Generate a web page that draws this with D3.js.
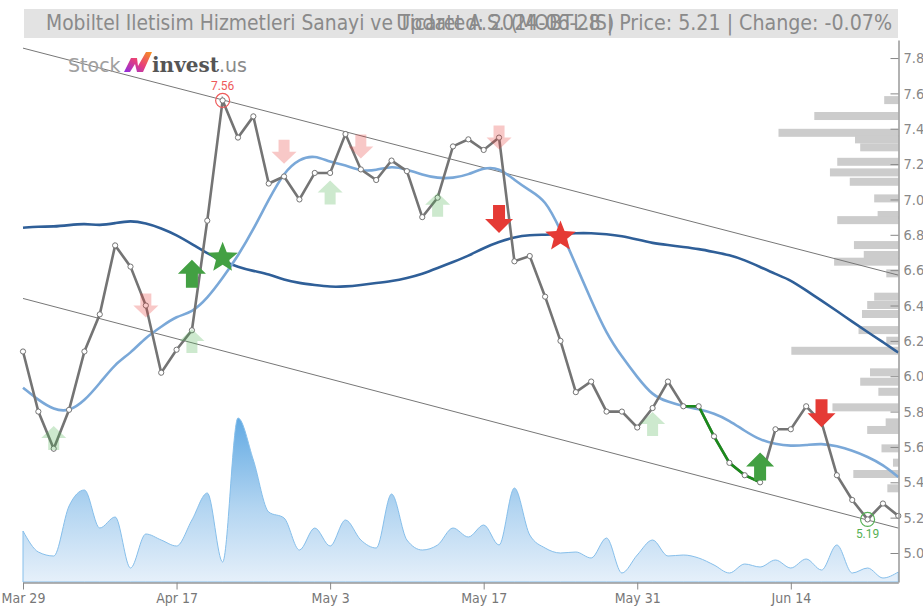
<!DOCTYPE html>
<html><head><meta charset="utf-8">
<script src="https://cdn.jsdelivr.net/npm/d3@7"></script>
<style>
html,body{margin:0;padding:0;background:#fff;}
svg{display:block;}
.nar{font-family:'Liberation Sans Narrow','Arial Narrow','DejaVu Sans Condensed',sans-serif;}
</style></head>
<body><svg id="c" width="923" height="608"></svg>
<script>
// ---------------- data ----------------
const dates = ["2024-03-29","2024-04-01","2024-04-02","2024-04-03","2024-04-04","2024-04-05","2024-04-08","2024-04-09","2024-04-15","2024-04-16",
"2024-04-17","2024-04-18","2024-04-19","2024-04-22","2024-04-24","2024-04-25","2024-04-26","2024-04-29","2024-04-30","2024-05-02",
"2024-05-03","2024-05-06","2024-05-07","2024-05-08","2024-05-09","2024-05-10","2024-05-13","2024-05-14","2024-05-15","2024-05-16",
"2024-05-17","2024-05-20","2024-05-21","2024-05-22","2024-05-23","2024-05-24","2024-05-27","2024-05-28","2024-05-29","2024-05-30",
"2024-05-31","2024-06-03","2024-06-04","2024-06-05","2024-06-06","2024-06-07","2024-06-10","2024-06-11","2024-06-12","2024-06-13",
"2024-06-14","2024-06-20","2024-06-21","2024-06-24","2024-06-25","2024-06-26","2024-06-27","2024-06-28"];

const closePrices = [6.14,5.80,5.59,5.81,6.14,6.35,6.74,6.62,6.40,6.02,
6.15,6.26,6.88,7.56,7.35,7.47,7.09,7.13,7.00,7.15,
7.15,7.37,7.17,7.11,7.22,7.16,6.90,7.01,7.30,7.34,
7.28,7.35,6.65,6.68,6.45,6.20,5.91,5.97,5.80,5.80,
5.71,5.82,5.97,5.83,5.83,5.66,5.51,5.44,5.40,5.70,
5.70,5.83,5.74,5.44,5.30,5.19,5.28,5.21];

const maShort = [5.935,5.865,5.81,5.80,5.86,5.96,6.07,6.13,6.22,6.28,
6.34,6.36,6.44,6.555,6.68,6.83,7.00,7.155,7.23,7.25,
7.21,7.195,7.16,7.165,7.19,7.17,7.14,7.12,7.12,7.14,
7.18,7.18,7.11,7.05,7.00,6.83,6.63,6.43,6.24,6.11,
5.995,5.89,5.855,5.83,5.815,5.79,5.75,5.69,5.64,5.615,
5.605,5.61,5.62,5.605,5.58,5.545,5.50,5.43];

const maLong = [6.84,6.847,6.846,6.855,6.864,6.852,6.866,6.881,6.866,6.838,
6.799,6.748,6.694,6.652,6.618,6.595,6.578,6.544,6.527,6.516,
6.505,6.507,6.516,6.527,6.538,6.555,6.578,6.612,6.646,6.68,
6.726,6.76,6.787,6.799,6.80,6.804,6.81,6.81,6.804,6.793,
6.773,6.753,6.742,6.731,6.72,6.703,6.686,6.657,6.618,6.578,
6.544,6.485,6.428,6.369,6.309,6.25,6.193,6.134];

const volumes = [1275,750,650,1900,2300,1350,1625,350,1200,1050,
900,1550,2225,500,4100,3050,1750,1600,800,1350,
900,1550,1050,850,2200,1050,800,925,1350,1125,
1425,925,2350,1175,850,725,750,600,1100,225,
675,1050,650,675,600,425,225,450,375,550,
350,575,300,925,225,350,100,250];

const profileLevels = [7.562,7.472,7.377,7.34,7.295,7.213,7.153,7.10,7.006,6.912,
6.883,6.742,6.686,6.648,6.582,6.45,6.403,6.352,6.261,6.201,
6.144,6.022,5.969,5.912,5.824,5.739,5.696,5.592,5.511,5.447,5.366];
const profileVolumes = [137,807,1150,417,367,587,657,467,233,200,
587,427,333,617,117,233,300,350,383,117,
1027,273,367,193,633,123,300,163,53,433,107];

const channelUpper = [7.856, 6.572];   // value at first / last date
const channelLower = [6.44, 5.141];

const greenRun = [43, 48];             // highlighted segment (index range)

// signals: index, price level, kind
const signalIdx   = [2, 8, 11, 11, 13, 17, 20, 22, 27, 31, 31, 35, 41, 48, 52];
const signalLevel = [5.65, 6.40, 6.20, 6.58, 6.67, 7.27, 7.04, 7.30, 6.97, 7.35, 6.89, 6.79, 5.73, 5.49, 5.79];
const signalKind  = ["weakBuy","weakSell","weakBuy","buy","buyStar","weakSell","weakBuy","weakSell","weakBuy","weakSell","sell","sellStar","weakBuy","buy","sell"];

const yTicks = [5.0,5.2,5.4,5.6,5.8,6.0,6.2,6.4,6.6,6.8,7.0,7.2,7.4,7.6,7.8];
const xTickDates = ["2024-03-29","2024-04-17","2024-05-03","2024-05-17","2024-05-31","2024-06-14"];

const titleLeft = "Mobiltel Iletisim Hizmetleri Sanayi ve Ticaret A.S. (MOBTL.IS)";
const titleRight = "Updated: 2024-06-28 | Price: 5.21 | Change: -0.07%";

// ---------------- drawing ----------------
const svg = d3.select("#c");
const parse = d3.timeParse("%Y-%m-%d");
const fmt = d3.timeFormat("%b %-d");

const x = d3.scalePoint().domain(dates).range([23, 898.3]);
const y = d3.scaleLinear().domain([4.836, 7.902]).range([582, 40]);
const yv = d3.scaleLinear().domain([0, 4100]).range([582, 418]);
const xp = d3.scaleLinear().domain([0, 1150]).range([0, 120]);

const defs = svg.append("defs");
const vg = defs.append("linearGradient").attr("id","vg").attr("gradientUnits","userSpaceOnUse")
  .attr("x1",0).attr("x2",0).attr("y1",418).attr("y2",582);
vg.append("stop").attr("offset","0").attr("stop-color","#62aae3");
vg.append("stop").attr("offset","0.55").attr("stop-color","#b3d5f1");
vg.append("stop").attr("offset","1").attr("stop-color","#e6f0fa");

const lg = defs.append("linearGradient").attr("id","lg").attr("x1","0").attr("x2","1").attr("y1","1").attr("y2","0");
lg.append("stop").attr("offset","0").attr("stop-color","#8e2de2");
lg.append("stop").attr("offset","0.5").attr("stop-color","#e8407a");
lg.append("stop").attr("offset","1").attr("stop-color","#f7931e");

// header
svg.append("rect").attr("x",24).attr("y",9).attr("width",874).attr("height",29).attr("fill","#e3e3e3");
svg.append("text").attr("class","nar").attr("x",46).attr("y",30).attr("font-size",20.8).attr("fill","#8a8a8a").text(titleLeft);
svg.append("text").attr("class","nar").attr("x",892).attr("y",30).attr("text-anchor","end").attr("font-size",21.2).attr("fill","#8a8a8a").text(titleRight);

// volume area
const idx = d3.range(dates.length);
svg.append("path").datum(idx)
  .attr("d", d3.area().x(i=>x(dates[i])).y0(582).y1(i=>yv(volumes[i])).curve(d3.curveMonotoneX))
  .attr("fill","url(#vg)").attr("stroke","#86bfeb").attr("stroke-width",1);

// volume profile
svg.append("g").selectAll("rect").data(profileLevels).join("rect")
  .attr("x",(d,i)=>898.5 - xp(profileVolumes[i])).attr("width",(d,i)=>xp(profileVolumes[i]))
  .attr("y",d=>y(d)-4).attr("height",8).attr("fill","#cccccc");

// channel
svg.append("line").attr("x1",x(dates[0])).attr("x2",x(dates[dates.length-1]))
  .attr("y1",y(channelUpper[0])).attr("y2",y(channelUpper[1])).attr("stroke","#777").attr("stroke-width",1);
svg.append("line").attr("x1",x(dates[0])).attr("x2",x(dates[dates.length-1]))
  .attr("y1",y(channelLower[0])).attr("y2",y(channelLower[1])).attr("stroke","#777").attr("stroke-width",1);

// moving averages
svg.append("path").datum(idx).attr("d", d3.line().x(i=>x(dates[i])).y(i=>y(maLong[i])).curve(d3.curveBasis))
  .attr("fill","none").attr("stroke","#2f5f98").attr("stroke-width",2.6);
svg.append("path").datum(idx).attr("d", d3.line().x(i=>x(dates[i])).y(i=>y(maShort[i])).curve(d3.curveBasis))
  .attr("fill","none").attr("stroke","#7aa8d8").attr("stroke-width",2.6);

// price line
const pline = d3.line().x(i=>x(dates[i])).y(i=>y(closePrices[i]));
svg.append("path").datum(idx).attr("d", pline).attr("fill","none").attr("stroke","#747474").attr("stroke-width",2.6);
svg.append("path").datum(d3.range(greenRun[0], greenRun[1]+1)).attr("d", pline).attr("fill","none").attr("stroke","#1b8a1b").attr("stroke-width",2.6);
svg.append("g").selectAll("circle").data(idx).join("circle")
  .attr("cx",i=>x(dates[i])).attr("cy",i=>y(closePrices[i])).attr("r",2.6)
  .attr("fill","#fff").attr("stroke","#747474").attr("stroke-width",1);

// signals
function arrowPath(W,Hh,headH,s){
  const t=-Hh/2, b=Hh/2, hb=t+headH;
  return `M0,${t}L${W/2},${hb}L${s/2},${hb}L${s/2},${b}L${-s/2},${b}L${-s/2},${hb}L${-W/2},${hb}Z`;
}
function starPath(R,r){
  let p="";
  for(let k=0;k<10;k++){const a=-Math.PI/2+k*Math.PI/5, rr=k%2?r:R; p+=(k?"L":"M")+(rr*Math.cos(a)).toFixed(2)+","+(rr*Math.sin(a)).toFixed(2);}
  return p+"Z";
}
const sg = svg.append("g");
signalIdx.forEach((si,k)=>{
  const kind = signalKind[k];
  const cx = x(dates[si]), cy = y(signalLevel[k]);
  const g = sg.append("g").attr("transform",`translate(${cx},${cy})`);
  if(kind==="buy") g.append("path").attr("d",arrowPath(28,28,14,12)).attr("fill","#43a043");
  else if(kind==="sell") g.append("path").attr("d",arrowPath(28,28,14,12)).attr("transform","rotate(180)").attr("fill","#e53a35");
  else if(kind==="weakBuy") g.append("path").attr("d",arrowPath(25,24,12,11)).attr("fill","#4caf50").attr("opacity",0.28);
  else if(kind==="weakSell") g.append("path").attr("d",arrowPath(25,24,12,11)).attr("transform","rotate(180)").attr("fill","#e53a35").attr("opacity",0.28);
  else if(kind==="buyStar") g.append("path").attr("d",starPath(16,7)).attr("fill","#43a043");
  else if(kind==="sellStar") g.append("path").attr("d",starPath(16,7)).attr("fill","#e53a35");
});

// max / min markers
const iMax = d3.maxIndex(closePrices), iMin = d3.minIndex(closePrices);
svg.append("circle").attr("cx",x(dates[iMax])).attr("cy",y(closePrices[iMax])).attr("r",7).attr("fill","none").attr("stroke","#ee5a5a").attr("stroke-width",1.2);
svg.append("text").attr("x",x(dates[iMax])).attr("y",y(closePrices[iMax])-10).attr("text-anchor","middle")
  .attr("font-family","Roboto, sans-serif").attr("font-size",12).attr("fill","#ee5a5a").text(closePrices[iMax].toFixed(2));
svg.append("circle").attr("cx",x(dates[iMin])).attr("cy",y(closePrices[iMin])).attr("r",7).attr("fill","none").attr("stroke","#55b055").attr("stroke-width",1.2);
svg.append("text").attr("x",x(dates[iMin])).attr("y",y(closePrices[iMin])+19).attr("text-anchor","middle")
  .attr("font-family","Roboto, sans-serif").attr("font-size",12).attr("fill","#55b055").text(closePrices[iMin].toFixed(2));

// axes
const ya = svg.append("g").attr("class","nar").attr("transform","translate(898.5,0)")
  .call(d3.axisRight(y).tickValues(yTicks).tickFormat(d3.format(".1f")).tickSizeInner(-8).tickSizeOuter(0).tickPadding(5));
ya.select(".domain").attr("stroke","#999").attr("stroke-width",1.5);
ya.selectAll(".tick line").attr("stroke","#888");
ya.selectAll("text").attr("font-size",14.5).attr("fill","#888").attr("font-family",null);

const xa = svg.append("g").attr("class","nar").attr("transform","translate(0,582.5)")
  .call(d3.axisBottom(x).tickValues(xTickDates).tickFormat(d=>fmt(parse(d))).tickSizeInner(7).tickSizeOuter(0).tickPadding(4));
xa.select(".domain").attr("stroke","#999").attr("stroke-width",1.5);
xa.selectAll(".tick line").attr("stroke","#888");
xa.selectAll("text").attr("font-size",14).attr("fill","#777").attr("font-family",null);

// logo
const logo = svg.append("g");
logo.append("text").attr("x",68).attr("y",72).attr("font-family","'DejaVu Sans', sans-serif").attr("font-size",19).attr("fill","#a0a0a0").text("Stock");
logo.append("path").attr("d","M124,72 L131,58 L137,58 L138,66 L146,52 L152,52 L143,72 L137,72 L135,64 L130,72 Z").attr("fill","url(#lg)");
logo.append("text").attr("x",152).attr("y",72).attr("font-family","'DejaVu Serif', serif").attr("font-weight","bold").attr("font-size",20).attr("fill","#555").text("invest");
logo.append("text").attr("x",219).attr("y",72).attr("font-family","'DejaVu Sans', sans-serif").attr("font-size",19).attr("fill","#8a8a8a").text(".us");
</script></body></html>
